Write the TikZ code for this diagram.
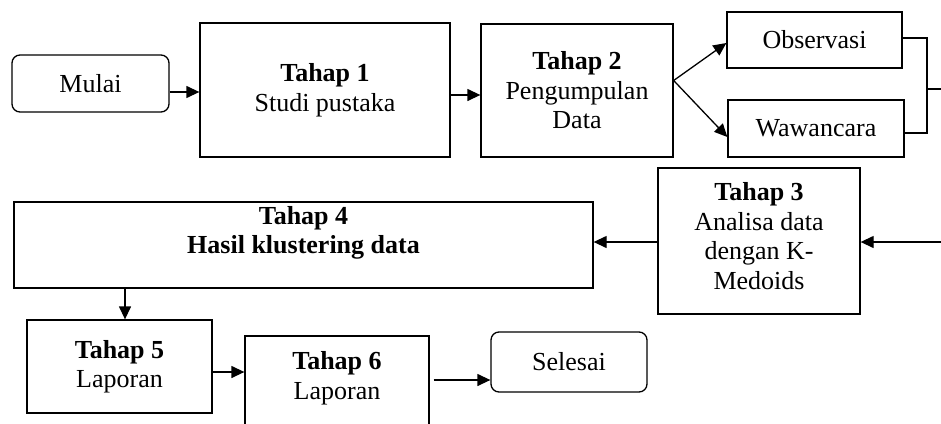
\documentclass[tikz,border=0pt]{standalone}
\usepackage{fontspec}
\setmainfont{Liberation Serif}
\usetikzlibrary{arrows.meta}
\begin{document}
\begin{tikzpicture}[x=1pt,y=-1pt,
  txt/.style={inner sep=0pt, align=center, font=\fontsize{26}{29.5}\selectfont},
  box/.style={txt, draw, line width=1.3pt},
  rbox/.style={box, rounded corners=8pt},
  arr/.style={line width=1.3pt, -{Triangle[length=13pt,width=12pt]}},
  ln/.style={line width=1.3pt}]
\useasboundingbox (0,0) rectangle (941,423);
\clip (0,0) rectangle (941,423);
% nodes
\node[rbox, minimum width=157pt, minimum height=57pt] (mulai) at (90.5,83.5) {Mulai};
\node[box, minimum width=250pt, minimum height=134pt] (t1) at (325,90) {\textbf{Tahap 1}\\Studi pustaka};
\node[box, minimum width=192pt, minimum height=133pt] (t2) at (577,90.5) {\textbf{Tahap 2}\\Pengumpulan\\Data};
\node[box, minimum width=175pt, minimum height=56pt] (obs) at (814.5,40) {Observasi};
\node[box, minimum width=176pt, minimum height=57pt] (waw) at (816,128.5) {Wawancara};
\node[box, minimum width=202pt, minimum height=146pt] (t3) at (759,241) {};
\node[txt] (t3text) at (759,236) {\textbf{Tahap 3}\\Analisa data\\dengan K-\\Medoids};
\node[box, minimum width=579pt, minimum height=86pt] (t4) at (303.5,245) {};
\node[txt] (t4text) at (303.5,233) {\textbf{Tahap 4}\\\textbf{Hasil klustering data}};
\node[box, minimum width=185pt, minimum height=93pt] (t5) at (119.5,366.5) {\textbf{Tahap 5}\\Laporan};
\node[box, minimum width=184pt, minimum height=104pt] (t6) at (337,388) {};
\node[txt] (t6text) at (337,378) {\textbf{Tahap 6}\\Laporan};
\node[rbox, minimum width=156pt, minimum height=60pt] (sel) at (569,362) {Selesai};
\coordinate (bkm) at (927,89);
\coordinate (out1) at (941,89);
\coordinate (in3) at (941,242);
% connectors
\draw[arr] ([yshift=-8.5pt]mulai.east) -- ([yshift=-8.5pt]mulai.east -| t1.west);
\draw[arr] ([yshift=-5pt]t1.east) -- ([yshift=-5pt]t1.east -| t2.west);
\draw[arr] ([yshift=10pt]t2.east) -- ([yshift=-3pt]obs.west);
\draw[arr] ([yshift=10pt]t2.east) -- ([yshift=-8.5pt]waw.west);
\draw[ln] ([yshift=2pt]obs.east) -| (bkm) |- ([yshift=-4.5pt]waw.east);
\draw[ln] (bkm) -- (out1);
\draw[arr] (in3) -- (in3 -| t3.east);
\draw[arr] ([yshift=-1pt]t3.west) -- ([yshift=-1pt]t3.west -| t4.east);
\draw[arr] ([xshift=5.5pt]t5.north |- t4.south) -- ([xshift=5.5pt]t5.north);
\draw[arr] ([yshift=-5.5pt]t5.east) -- ([yshift=-5.5pt]t5.east -| t6.west);
\draw[arr] ([xshift=4pt,yshift=8pt]t6.east) -- ([yshift=8pt]t6.east -| sel.west);
\end{tikzpicture}
\end{document}
